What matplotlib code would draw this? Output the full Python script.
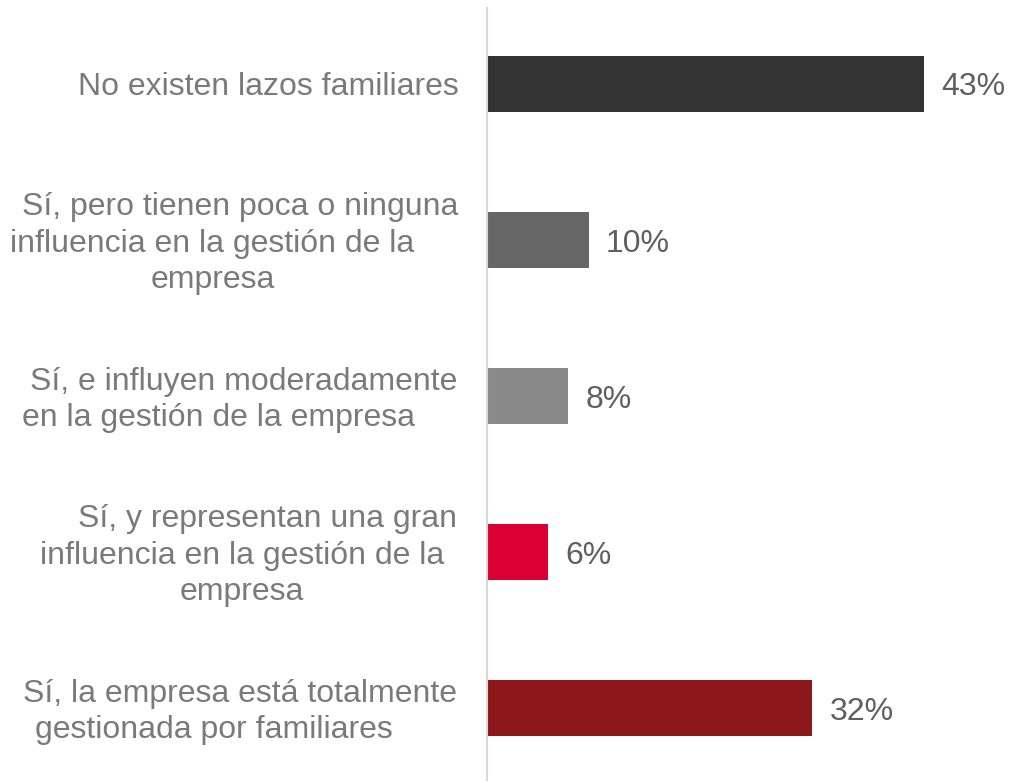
import matplotlib.pyplot as plt

# answers to: family ties in company management
values = [43, 10, 8, 6, 32]
value_labels = ["43%", "10%", "8%", "6%", "32%"]
label_lines = [
    ["No existen lazos familiares"],
    ["Sí, pero tienen poca o ninguna", "influencia en la gestión de la", "empresa"],
    ["Sí, e influyen moderadamente", "en la gestión de la empresa"],
    ["Sí, y representan una gran", "influencia en la gestión de la", "empresa"],
    ["Sí, la empresa está totalmente", "gestionada por familiares"],
]
colors = ["#333333", "#666666", "#898989", "#DC0032", "#8C181C"]

# horizontal centre (pixels) for each line of the category labels
line_centres = [
    [268],
    [240, 212, 213],
    [244, 218],
    [268, 242, 242],
    [240, 214],
]

plt.rcParams['font.family'] = ['Liberation Sans', 'DejaVu Sans']
FS = 23

W, H = 1010, 783
fig = plt.figure(figsize=(W / 100, H / 100), dpi=100)
left, right, top, bottom = 487, 1000, 8, 780
ax = fig.add_axes([left / W, (H - bottom) / H, (right - left) / W, (bottom - top) / H])

ypos = list(range(len(values)))
ax.barh(ypos, values, height=0.36, color=colors)
ax.set_xlim(0, 50.5)
ax.set_ylim(4.46, -0.487)

for y, v, lab in zip(ypos, values, value_labels):
    ax.text(v + 1.7, y, lab, va='center_baseline', ha='left', fontsize=FS, color='#5f5f5f')

line_step = 0.232
for y, lines, centres in zip(ypos, label_lines, line_centres):
    n = len(lines)
    for i, (txt, cx) in enumerate(zip(lines, centres)):
        ly = y + (i - (n - 1) / 2) * line_step
        xa = (cx - left) / (right - left)
        ax.text(xa, ly, txt, transform=ax.get_yaxis_transform(), ha='center',
                va='center_baseline', fontsize=FS, color='#7a7a7a')

for s in ['top', 'right', 'bottom']:
    ax.spines[s].set_visible(False)
ax.spines['left'].set_color('#d9d9d9')
ax.spines['left'].set_linewidth(1.5)
ax.set_xticks([])
ax.set_yticks([])

fig.savefig("out.png", dpi=100)
